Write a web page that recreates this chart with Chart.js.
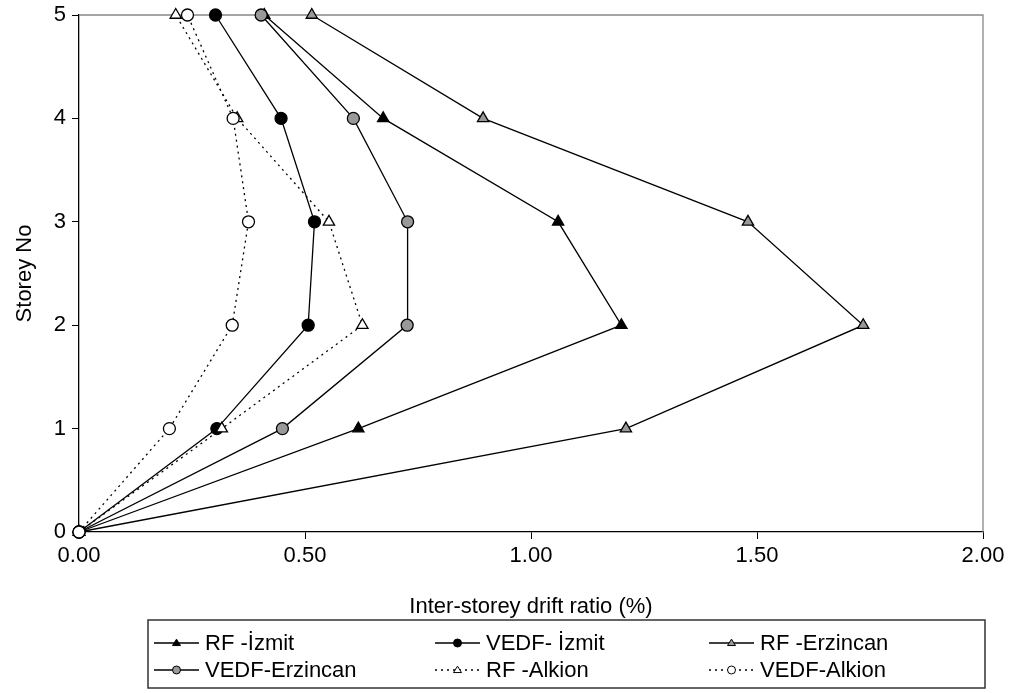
<!DOCTYPE html>
<html>
<head>
<meta charset="utf-8">
<script src="https://cdn.jsdelivr.net/npm/chart.js@4.4.1/dist/chart.umd.min.js"></script>
<style>
  html, body { margin: 0; padding: 0; background: #fff; }
  #wrap { width: 1014px; height: 693px; position: relative; }
</style>
</head>
<body>
<div id="wrap"><canvas id="chart" width="1014" height="693"></canvas></div>
<script>
// storeys 0..5, drift ratio (%) per storey
const storeys = [0, 1, 2, 3, 4, 5];
const rfIzmit = [0, 0.618, 1.20, 1.06, 0.673, 0.41];
const vedfIzmit = [0, 0.305, 0.507, 0.521, 0.447, 0.302];
const rfErzincan = [0, 1.21, 1.735, 1.48, 0.894, 0.515];
const vedfErzincan = [0, 0.45, 0.726, 0.727, 0.607, 0.403];
const rfAlkion = [0, 0.316, 0.627, 0.553, 0.35, 0.214];
const vedfAlkion = [0, 0.20, 0.339, 0.375, 0.341, 0.240];

const xTicks = [0, 0.5, 1.0, 1.5, 2.0];
const FONT = "'Liberation Sans', Arial, sans-serif";
const GRAY = "#999999";

// helpers
const pts = (xs) => xs.map((x, i) => ({ x: x, y: storeys[i] }));

function series(label, xs, shape, fill, dashed, idx) {
  return {
    label: label,
    data: pts(xs),
    order: 10 - idx, // later series on top, like the original
    clip: false,
    showLine: true,
    borderColor: "#000",
    borderWidth: 1.3,
    borderDash: dashed ? [2, 4] : [],
    pointStyle: shape,
    pointRadius: shape === "triangle" ? 6.5 : 6,
    pointBackgroundColor: fill,
    pointBorderColor: "#000",
    pointBorderWidth: 1.3,
    _shape: shape,
    _fill: fill,
    _dashed: dashed
  };
}

const datasets = [
  series("RF -İzmit", rfIzmit, "triangle", "#000", false, 0),
  series("VEDF- İzmit", vedfIzmit, "circle", "#000", false, 1),
  series("RF -Erzincan", rfErzincan, "triangle", GRAY, false, 2),
  series("VEDF-Erzincan", vedfErzincan, "circle", GRAY, false, 3),
  series("RF -Alkion", rfAlkion, "triangle", "#fff", true, 4),
  series("VEDF-Alkion", vedfAlkion, "circle", "#fff", true, 5)
];

// gray frame on top / right of plot
const framePlugin = {
  id: "frame",
  beforeDatasetsDraw(chart) {
    const { ctx, chartArea: a } = chart;
    ctx.save();
    ctx.strokeStyle = "#888";
    ctx.lineWidth = 1.3;
    ctx.beginPath();
    ctx.moveTo(a.left, a.top);
    ctx.lineTo(a.right, a.top);
    ctx.lineTo(a.right, a.bottom);
    ctx.stroke();
    ctx.restore();
  }
};

function drawMarker(ctx, shape, x, y, r, fill) {
  ctx.beginPath();
  if (shape === "circle") {
    ctx.arc(x, y, r, 0, Math.PI * 2);
  } else {
    const h = r * 1.6;
    ctx.moveTo(x, y - h * 0.6);
    ctx.lineTo(x + r, y + h * 0.4);
    ctx.lineTo(x - r, y + h * 0.4);
    ctx.closePath();
  }
  ctx.fillStyle = fill;
  ctx.fill();
  ctx.setLineDash([]);
  ctx.lineWidth = 1;
  ctx.strokeStyle = "#000";
  ctx.stroke();
}

// legend box under the axis title
const legendPlugin = {
  id: "boxLegend",
  afterDraw(chart) {
    const ctx = chart.ctx;
    const box = { l: 148, t: 620, r: 985, b: 688 };
    const cols = [154, 435, 709];
    const rows = [643, 670];
    ctx.save();
    ctx.strokeStyle = "#333";
    ctx.lineWidth = 1.5;
    ctx.strokeRect(box.l, box.t, box.r - box.l, box.b - box.t);
    ctx.font = "22px " + FONT;
    ctx.textBaseline = "middle";
    chart.data.datasets.forEach((ds, i) => {
      const x = cols[i % 3];
      const y = rows[Math.floor(i / 3)];
      ctx.strokeStyle = "#000";
      ctx.lineWidth = 1.3;
      ctx.setLineDash(ds._dashed ? [2, 4] : []);
      ctx.beginPath();
      ctx.moveTo(x, y);
      ctx.lineTo(x + 45, y);
      ctx.stroke();
      drawMarker(ctx, ds._shape, x + 22.5, y, 4, ds._fill);
      ctx.fillStyle = "#000";
      ctx.fillText(ds.label, x + 51, y + 1);
    });
    ctx.restore();
  }
};

new Chart(document.getElementById("chart"), {
  type: "scatter",
  data: { datasets: datasets },
  options: {
    responsive: false,
    animation: false,
    devicePixelRatio: 1,
    layout: { padding: { top: 15, right: 31, bottom: 73, left: 0 } },
    plugins: {
      legend: { display: false },
      tooltip: { enabled: false }
    },
    scales: {
      x: {
        type: "linear",
        min: 0,
        max: 2,
        afterBuildTicks(scale) { scale.ticks = xTicks.map(v => ({ value: v })); },
        afterFit(scale) { scale.height = 88; scale.paddingLeft = 0; scale.paddingRight = 0; },
        ticks: {
          color: "#000",
          padding: 4,
          font: { family: FONT, size: 22 },
          callback: (v) => Number(v).toFixed(2)
        },
        grid: { drawOnChartArea: false, drawTicks: true, tickLength: 7, color: "#000", lineWidth: 1 },
        border: { display: true, color: "#000", width: 1.3 },
        title: {
          display: true,
          text: "Inter-storey drift ratio (%)",
          color: "#000",
          font: { family: FONT, size: 22 },
          padding: { top: 0, bottom: 0 }
        }
      },
      y: {
        type: "linear",
        min: 0,
        max: 5,
        afterFit(scale) { scale.width = 79; scale.paddingTop = 0; scale.paddingBottom = 0; },
        ticks: {
          stepSize: 1,
          color: "#000",
          padding: 6,
          font: { family: FONT, size: 22 }
        },
        grid: { drawOnChartArea: false, drawTicks: true, tickLength: 7, color: "#000", lineWidth: 1 },
        border: { display: true, color: "#000", width: 1.3 },
        title: {
          display: true,
          text: "Storey No",
          color: "#000",
          font: { family: FONT, size: 22 },
          padding: { top: 12, bottom: 0 }
        }
      }
    }
  },
  plugins: [framePlugin, legendPlugin]
});
</script>
</body>
</html>
